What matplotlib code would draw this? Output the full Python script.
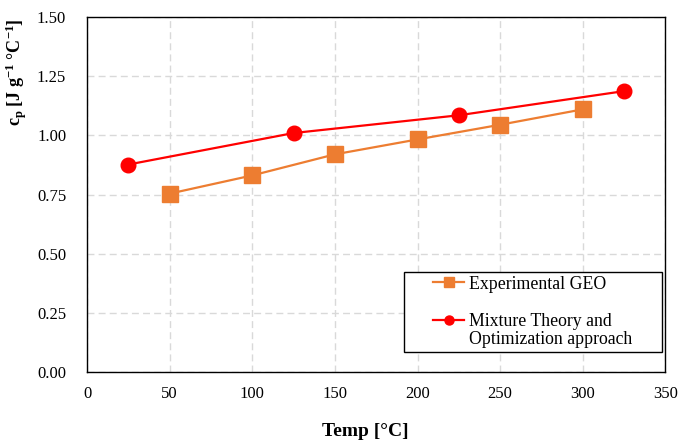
import matplotlib
matplotlib.use("Agg")
import matplotlib.pyplot as plt
from matplotlib.lines import Line2D
from matplotlib.patches import Rectangle
from matplotlib.ticker import FormatStrFormatter, MultipleLocator

# Specific heat data
exp_temp = [50, 100, 150, 200, 250, 300]
exp_cp = [0.754, 0.831, 0.920, 0.983, 1.045, 1.110]
model_temp = [25, 125, 225, 325]
model_cp = [0.877, 1.010, 1.085, 1.187]

plt.rcParams["font.family"] = "Liberation Serif"
plt.rcParams["mathtext.fontset"] = "custom"
plt.rcParams["mathtext.rm"] = "Liberation Serif"
plt.rcParams["mathtext.it"] = "Liberation Serif:italic"
plt.rcParams["mathtext.bf"] = "Liberation Serif:bold"

fig = plt.figure(figsize=(6.82, 4.42), dpi=100)
ax = fig.add_axes([0.1276, 0.158, 0.848, 0.8035])

exp_line, = ax.plot(exp_temp, exp_cp, color="#ED7D31", lw=1.6, marker="s", ms=11,
                    zorder=3)
model_line, = ax.plot(model_temp, model_cp, color="#FF0000", lw=1.6, marker="o",
                      ms=10.5, zorder=3)

ax.set_xlim(0, 350)
ax.set_ylim(0, 1.5)
ax.xaxis.set_major_locator(MultipleLocator(50))
ax.yaxis.set_major_locator(MultipleLocator(0.25))
ax.yaxis.set_major_formatter(FormatStrFormatter("%.2f"))
ax.tick_params(length=0, labelsize=12)
ax.tick_params(axis="x", pad=10)
ax.tick_params(axis="y", pad=15)
ax.grid(True, color="#d9d9d9", linestyle=(0, (5, 3)), lw=1)
ax.set_axisbelow(True)
for s in ax.spines.values():
    s.set_color("black")
    s.set_linewidth(1)

ax.set_xlabel("Temp [°C]", fontsize=14, fontweight="bold", va="center")
ax.xaxis.set_label_coords(0.482, -0.166)
ax.set_ylabel(r"$\mathbf{c_p\ [J\ g^{-1}\ \degree C^{-1}]}$", fontsize=13, loc="top")
ax.yaxis.label.set_va("center")
ax.yaxis.set_label_coords(-0.123, 0.995)

# legend box, entries laid out inside it
ax.add_patch(Rectangle((0.548, 0.056), 0.446, 0.226, transform=ax.transAxes,
                       facecolor="white", edgecolor="black", lw=1, zorder=4))
blank = Line2D([], [], linestyle="none")
leg = ax.legend([exp_line, blank, model_line, blank],
                ["Experimental GEO", " ", "Mixture Theory and", "Optimization approach"],
                loc="upper left", bbox_to_anchor=(0.598, 0.272), fontsize=12.8,
                frameon=False, labelspacing=0.05, markerscale=0.62,
                handlelength=1.77, handletextpad=0.25, borderpad=0, borderaxespad=0)
leg.get_texts()[1].set_fontsize(16)
leg.set_zorder(5)

fig.savefig("out.png", dpi=100)
